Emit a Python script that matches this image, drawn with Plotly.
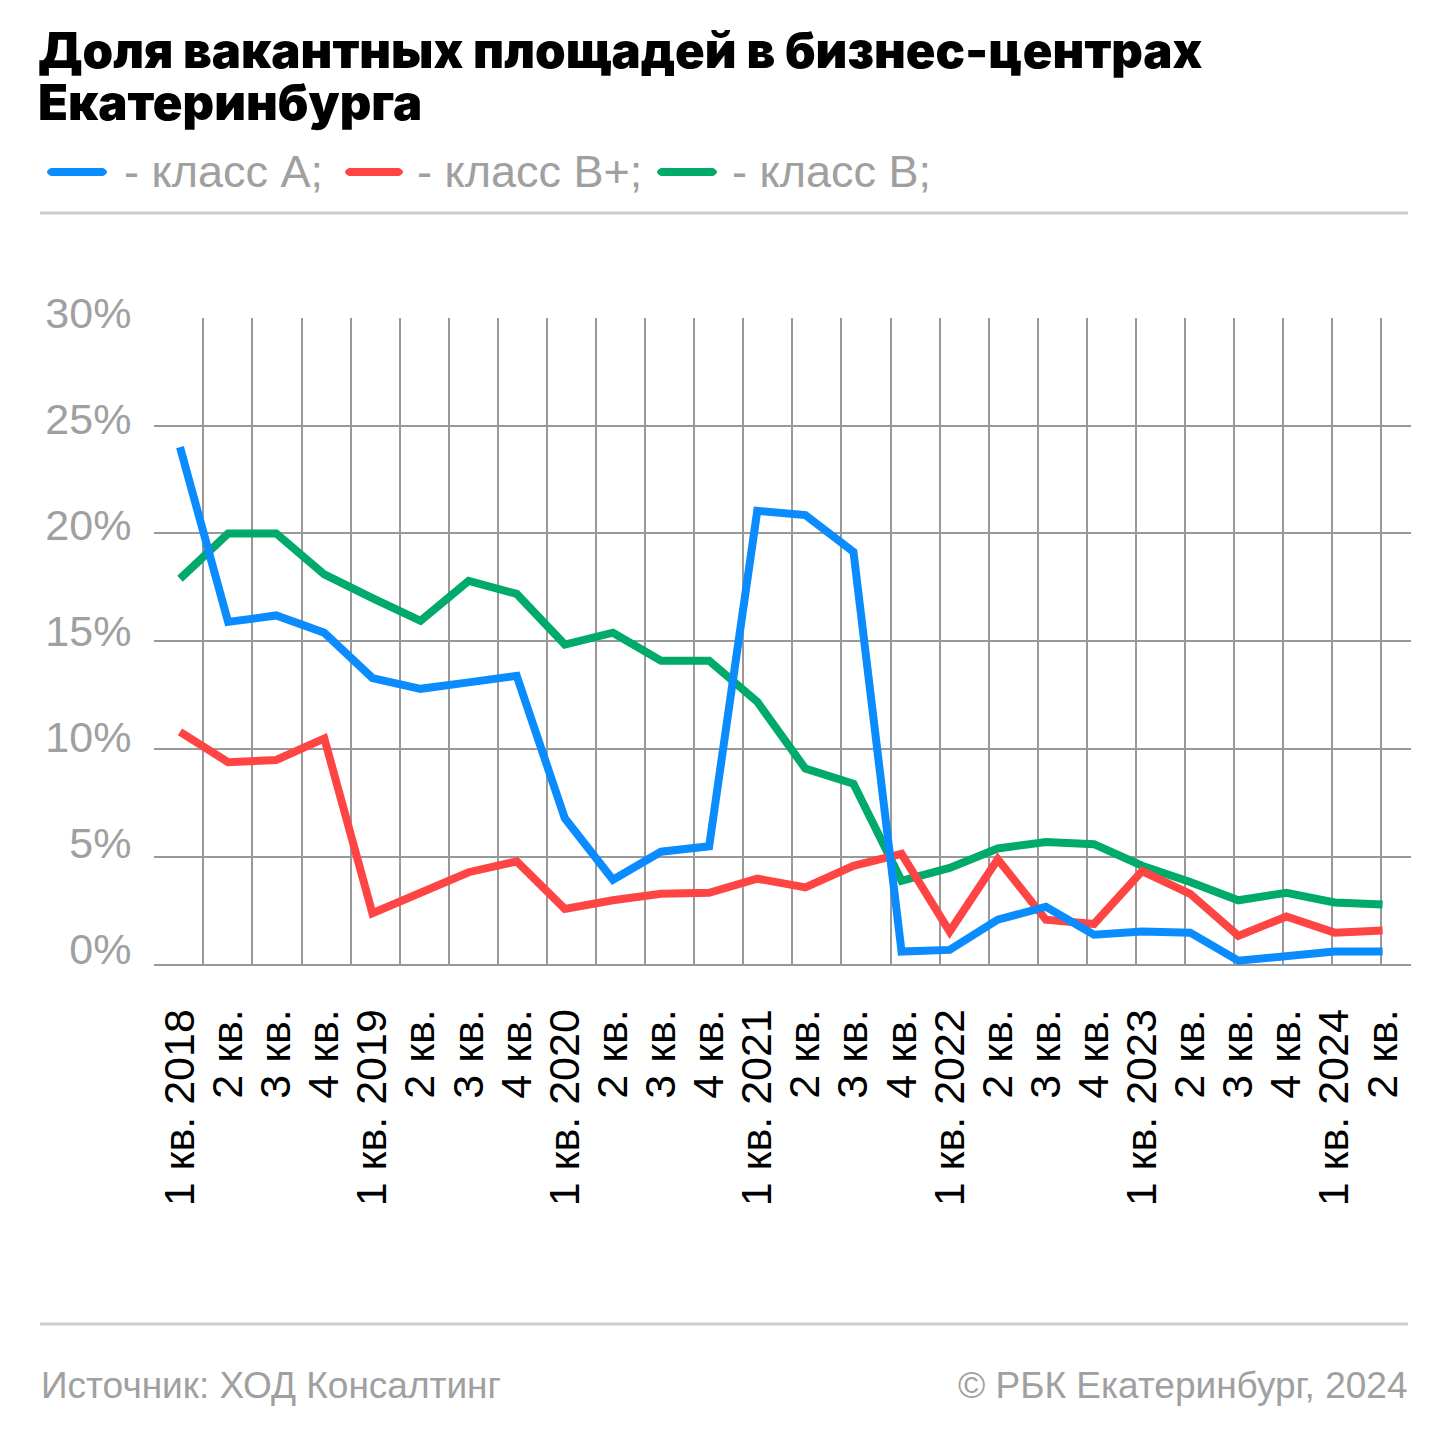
import plotly.graph_objects as go

# ---------------- data ----------------
quarters = ["1 кв. 2018", "2 кв.", "3 кв.", "4 кв.",
            "1 кв. 2019", "2 кв.", "3 кв.", "4 кв.",
            "1 кв. 2020", "2 кв.", "3 кв.", "4 кв.",
            "1 кв. 2021", "2 кв.", "3 кв.", "4 кв.",
            "1 кв. 2022", "2 кв.", "3 кв.", "4 кв.",
            "1 кв. 2023", "2 кв.", "3 кв.", "4 кв.",
            "1 кв. 2024", "2 кв."]
class_a = [24.0, 15.9, 16.2, 15.4, 13.3, 12.8, 13.1, 13.4,
           6.8, 3.95, 5.25, 5.5, 21.05, 20.85, 19.15, 0.62,
           0.7, 2.1, 2.7, 1.4, 1.55, 1.5, 0.2, 0.4, 0.62, 0.62]
class_bplus = [10.8, 9.4, 9.5, 10.5, 2.4, 3.35, 4.3, 4.8,
               2.6, 3.0, 3.3, 3.35, 4.0, 3.6, 4.6, 5.15,
               1.55, 4.9, 2.1, 1.9, 4.35, 3.3, 1.35, 2.25, 1.5, 1.6]
class_b = [17.9, 20.0, 20.0, 18.1, 17.0, 15.95, 17.8, 17.2,
           14.85, 15.4, 14.1, 14.1, 12.2, 9.1, 8.4, 3.9,
           4.5, 5.4, 5.7, 5.6, 4.6, 3.85, 3.0, 3.35, 2.9, 2.8]
series_names = ["- класс А;", "- класс В+;", "- класс В;"]
title_lines = ["Доля вакантных площадей в бизнес-центрах", "Екатеринбурга"]
y_ticks = [0, 5, 10, 15, 20, 25, 30]
y_ticktext = ["0%", "5%", "10%", "15%", "20%", "25%", "30%"]

BLUE, RED, GREEN = "#0a8cff", "#ff4444", "#00aa6b"
GRID = "#999999"
GREY_TEXT = "#a0a0a0"

W = H = 1440
ML, MR, MT, MB = 154, 29, 300, 475
PW, PH = W - ML - MR, H - MT - MB
PLOT_BOTTOM = H - MB


def xp(px):
    return (px - ML) / PW


def yp(py):
    return (PLOT_BOTTOM - py) / PH


idx = list(range(len(quarters)))

fig = go.Figure()
for name, vals, col in [(series_names[2], class_b, GREEN),
                        (series_names[1], class_bplus, RED),
                        (series_names[0], class_a, BLUE)]:
    fig.add_trace(go.Scatter(x=idx, y=vals, mode="lines", name=name,
                             line=dict(color=col, width=8),
                             showlegend=False, xaxis="x", yaxis="y"))

# helper traces so that grid/label axes exist
fig.add_trace(go.Scatter(x=[None], y=[None], xaxis="x2", yaxis="y",
                         showlegend=False, hoverinfo="skip"))
fig.add_trace(go.Scatter(x=[None], y=[None], xaxis="x", yaxis="y2",
                         showlegend=False, hoverinfo="skip"))

# data x scale: point 0 at 180px, point 25 at ~1382.6px
step_pts = (1382.6 - 180) / 25
x_range = [-(180 - ML) / step_pts, 25 + (W - MR - 1382.6) / step_pts]
# vertical grid lines are on their own spacing
step_grid = (1381.3 - 154.3) / 25
x2_range = [(ML - 154.3) / step_grid, (W - MR - 154.3) / step_grid]

y_dom_top = yp(317.7)
lab_dom = [yp(949), yp(312.5)]

fig.update_layout(
    width=W, height=H,
    margin=dict(l=ML, r=MR, t=MT, b=MB),
    paper_bgcolor="white", plot_bgcolor="rgba(0,0,0,0)",
    showlegend=False,
    xaxis=dict(range=x_range, tickmode="array", tickvals=idx, ticktext=quarters,
               tickangle=-90, showgrid=False, zeroline=False, showline=False,
               ticks="outside", ticklen=26, tickcolor="rgba(0,0,0,0)",
               tickfont=dict(family="Liberation Sans, Arial", size=43, color="#000000"),
               anchor="y", fixedrange=True),
    xaxis2=dict(range=x2_range, overlaying="x", anchor="y", tickmode="linear",
                tick0=0, dtick=1, showgrid=True, gridcolor=GRID, gridwidth=1.5,
                showticklabels=False, zeroline=False, showline=False, ticks=""),
    yaxis=dict(domain=[0, y_dom_top], range=[0, 30.0001], tickmode="array",
               tickvals=y_ticks, showticklabels=False, showgrid=True,
               gridcolor=GRID, gridwidth=1.5, zeroline=True, zerolinecolor=GRID,
               zerolinewidth=1.5, showline=False, ticks="", anchor="x"),
    yaxis2=dict(domain=lab_dom, range=[-0.001, 30.001], tickmode="array",
                tickvals=y_ticks, ticktext=y_ticktext, showgrid=False,
                zeroline=False, showline=False, anchor="x", side="left",
                ticks="outside", ticklen=13, tickcolor="rgba(0,0,0,0)",
                tickfont=dict(family="Liberation Sans, Arial", size=43, color=GREY_TEXT)),
)

annotations = []
# title: one block, line spacing from the base size (40 -> 52px), glyphs at 49px
title_html = "<br>".join(f'<span style="font-size:49px">{t}</span>' for t in title_lines)
annotations.append(dict(text=title_html, x=xp(36), y=yp(77), xref="paper", yref="paper",
                        xanchor="left", yanchor="middle", align="left", showarrow=False,
                        font=dict(family="Inter", size=40, color="#000000", weight=900)))

# legend: pills + text
legend_items = [(47, 107, 122, series_names[0], BLUE),
                (345, 403, 415, series_names[1], RED),
                (657, 717, 730, series_names[2], GREEN)]
shapes = []
LEG_Y = 172
r = 4
for x0, x1, tx, label, col in legend_items:
    path = (f"M {xp(x0 + r)},{yp(LEG_Y - r)} L {xp(x1 - r)},{yp(LEG_Y - r)} "
            f"Q {xp(x1 + r)},{yp(LEG_Y)} {xp(x1 - r)},{yp(LEG_Y + r)} "
            f"L {xp(x0 + r)},{yp(LEG_Y + r)} "
            f"Q {xp(x0 - r)},{yp(LEG_Y)} {xp(x0 + r)},{yp(LEG_Y - r)} Z")
    shapes.append(dict(type="path", path=path, xref="paper", yref="paper",
                       fillcolor=col, line=dict(width=0)))
    annotations.append(dict(text=label, x=xp(tx), y=yp(LEG_Y - 1), xref="paper", yref="paper",
                            xanchor="left", yanchor="middle", showarrow=False,
                            font=dict(family="Liberation Sans, Arial", size=45, color=GREY_TEXT)))

# separators
for sy in (213, 1324):
    shapes.append(dict(type="line", x0=xp(40), x1=xp(1408), y0=yp(sy), y1=yp(sy),
                       xref="paper", yref="paper", line=dict(color="#cccccc", width=3)))

# footer
annotations.append(dict(text="Источник: ХОД Консалтинг", x=xp(39), y=yp(1385),
                        xref="paper", yref="paper", xanchor="left", yanchor="middle",
                        showarrow=False,
                        font=dict(family="Liberation Sans, Arial", size=37, color=GREY_TEXT)))
annotations.append(dict(text="© РБК Екатеринбург, 2024", x=xp(1409), y=yp(1385),
                        xref="paper", yref="paper", xanchor="right", yanchor="middle",
                        showarrow=False,
                        font=dict(family="Liberation Sans, Arial", size=37, color=GREY_TEXT)))

fig.update_layout(annotations=annotations, shapes=shapes)
fig.write_html("out.html", config={"displayModeBar": False},
               post_script="document.body.style.margin='0px';")
